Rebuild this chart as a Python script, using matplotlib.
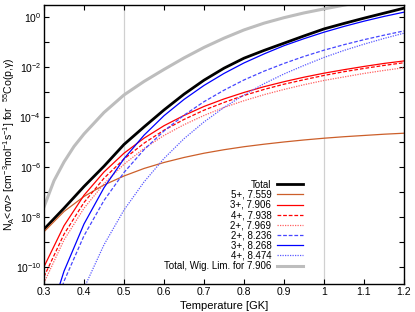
import numpy as np
import matplotlib
matplotlib.use('Agg')
import matplotlib.pyplot as plt
from matplotlib.ticker import FixedLocator, FixedFormatter

plt.rcParams['font.family'] = ['Liberation Sans', 'DejaVu Sans']
plt.rcParams['mathtext.default'] = 'regular'

## temperature grid [GK]
T9 = [0.30, 0.35, 0.40, 0.45, 0.50, 0.55, 0.60, 0.65, 0.70, 0.75,
      0.80, 0.85, 0.90, 0.95, 1.00, 1.05, 1.10, 1.15, 1.20]

## log10 of the rates
total = [-8.49, -7.65, -6.78, -5.97, -5.10, -4.40, -3.72, -3.09, -2.53, -2.05,
         -1.65, -1.34, -1.05, -0.76, -0.48, -0.26, -0.05, 0.15, 0.35]
r_7559 = [-8.59, -7.78, -7.18, -6.72, -6.36, -6.06, -5.82, -5.62, -5.45, -5.31,
          -5.19, -5.09, -5.00, -4.92, -4.85, -4.79, -4.74, -4.69, -4.65]
r_7906 = [-9.99, -8.35, -7.13, -6.20, -5.45, -4.85, -4.35, -3.94, -3.58, -3.28,
          -3.02, -2.79, -2.59, -2.41, -2.25, -2.11, -1.98, -1.86, -1.76]
r_7938 = [-10.39, -8.69, -7.42, -6.45, -5.68, -5.05, -4.53, -4.10, -3.73, -3.42,
          -3.14, -2.90, -2.69, -2.51, -2.34, -2.19, -2.06, -1.94, -1.83]
r_7969 = [-10.63, -8.92, -7.65, -6.67, -5.89, -5.26, -4.74, -4.31, -3.94, -3.62,
          -3.35, -3.11, -2.90, -2.71, -2.54, -2.40, -2.26, -2.14, -2.03]
r_8236 = [-13.01, -10.57, -8.75, -7.34, -6.22, -5.31, -4.56, -3.93, -3.39, -2.93,
          -2.52, -2.17, -1.86, -1.58, -1.33, -1.11, -0.91, -0.73, -0.56]
r_8268 = [-12.69, -10.17, -8.28, -6.83, -5.67, -4.73, -3.95, -3.30, -2.74, -2.26,
          -1.84, -1.48, -1.15, -0.87, -0.61, -0.38, -0.17, 0.02, 0.19]
r_8474 = [-16.13, -13.11, -10.85, -9.11, -7.72, -6.60, -5.66, -4.87, -4.20, -3.62,
          -3.12, -2.67, -2.28, -1.94, -1.62, -1.34, -1.09, -0.86, -0.65]
T9_wig = [0.30, 0.325, 0.35, 0.375, 0.40, 0.45, 0.50, 0.55, 0.60, 0.65, 0.70, 0.75,
          0.80, 0.85, 0.90, 0.95, 1.00, 1.05, 1.10]
wig_7906 = [-7.60, -6.55, -5.80, -5.18, -4.68, -3.82, -3.12, -2.58, -2.10, -1.64,
            -1.22, -0.85, -0.52, -0.25, -0.03, 0.16, 0.32, 0.47, 0.62]

labels = ['Total', '5+, 7.559', '3+, 7.906', '4+, 7.938', '2+, 7.969',
          '2+, 8.236', '3+, 8.268', '4+, 8.474', 'Total, Wig. Lim. for 7.906']

fig = plt.figure(figsize=(4.15, 3.12), dpi=100)
ax = fig.add_axes([0.106, 0.0897, 0.8675, 0.8943])

ax.axvline(0.5, color='#d0d0d0', lw=0.9, zorder=0)
ax.axvline(1.0, color='#d0d0d0', lw=0.9, zorder=0)

p = lambda v: 10 ** np.array(v)
ax.plot(T9, p(total), color='black', lw=2.0, label=labels[0])
ax.plot(T9, p(r_7559), color='#cc5f2a', lw=0.9, label=labels[1])
ax.plot(T9, p(r_7906), color='#ff0000', lw=0.9, label=labels[2])
ax.plot(T9, p(r_7938), color='#ff0000', lw=0.9, ls=(0, (3, 1.5)), label=labels[3])
ax.plot(T9, p(r_7969), color='#ff6060', lw=0.9, ls=(0, (1, 1)), label=labels[4])
ax.plot(T9, p(r_8236), color='#4646ff', lw=0.9, ls=(0, (3, 1.5)), label=labels[5])
ax.plot(T9, p(r_8268), color='#0000ff', lw=0.9, label=labels[6])
ax.plot(T9, p(r_8474), color='#5a5aff', lw=0.9, ls=(0, (1, 1)), label=labels[7])
ax.plot(T9_wig, p(wig_7906), color='#bdbdbd', lw=2.2, label=labels[8])

ax.set_yscale('log')
ax.set_xlim(0.3, 1.2)
ax.set_ylim(2.09e-11, 3.0)

dec = np.arange(-10, 1)
ax.yaxis.set_major_locator(FixedLocator(10.0 ** dec))
ax.yaxis.set_major_formatter(FixedFormatter(
    ['$10^{%d}$' % d if d % 2 == 0 else '' for d in dec]))
ax.yaxis.set_minor_locator(FixedLocator([]))
xt = [0.3, 0.4, 0.5, 0.6, 0.7, 0.8, 0.9, 1.0, 1.1, 1.2]
ax.set_xticks(xt)
ax.set_xticklabels(['0.3', '0.4', '0.5', '0.6', '0.7', '0.8', '0.9', '1', '1.1', '1.2'])
ax.tick_params(direction='in', top=True, right=True, length=3.5, width=0.8,
               labelsize=7.5, pad=2)
for s in ax.spines.values():
    s.set_linewidth(1.0)

ax.set_xlabel('Temperature [GK]', fontsize=8, labelpad=3)
ax.set_ylabel('N$_A$<$\\sigma$v> [cm$^{-3}$mol$^{-1}$s$^{-1}$] for  $^{55}$Co(p,$\\gamma$)',
              fontsize=7.6)
ax.yaxis.set_label_coords(-0.075, 0.5)

ax.legend(loc='lower right', bbox_to_anchor=(0.745, 0.015), frameon=False,
          markerfirst=False, fontsize=7.0, labelspacing=0.02, handlelength=2.7,
          handletextpad=0.6, borderpad=0.4)

fig.savefig('out.png', dpi=100)
